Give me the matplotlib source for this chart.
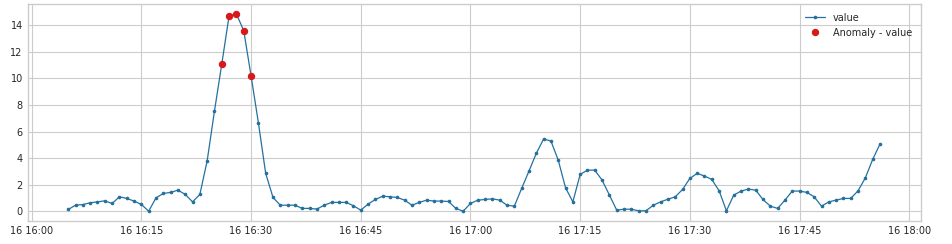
import numpy as np
import pandas as pd
import matplotlib
matplotlib.use("Agg")
import matplotlib.pyplot as plt
import matplotlib.dates as mdates

# one reading per minute, 16:05 .. 17:56
start = "2021-01-16 16:05"
values = [
    0.15, 0.47, 0.52, 0.65, 0.72, 0.80, 0.60, 1.10, 0.98, 0.78,
    0.53, 0.02, 1.02, 1.35, 1.43, 1.60, 1.28, 0.72, 1.28, 3.81,
    7.55, 11.08, 14.70, 14.82, 13.57, 10.18, 6.67, 2.86, 1.05, 0.47,
    0.47, 0.47, 0.23, 0.23, 0.18, 0.47, 0.68, 0.68, 0.68, 0.43,
    0.10, 0.55, 0.90, 1.15, 1.10, 1.05, 0.85, 0.47, 0.68, 0.85,
    0.78, 0.78, 0.75, 0.23, 0.02, 0.60, 0.85, 0.90, 0.95, 0.85,
    0.47, 0.40, 1.73, 3.03, 4.36, 5.44, 5.29, 3.86, 1.78, 0.72,
    2.78, 3.10, 3.10, 2.35, 1.23, 0.10, 0.17, 0.17, 0.05, 0.05,
    0.47, 0.72, 0.92, 1.10, 1.65, 2.48, 2.86, 2.66, 2.40, 1.55,
    0.05, 1.23, 1.53, 1.68, 1.60, 0.90, 0.40, 0.23, 0.85, 1.53,
    1.53, 1.43, 1.10, 0.40, 0.72, 0.85, 0.98, 0.98, 1.55, 2.53,
    3.91, 5.06,
]
anomaly_times = ["2021-01-16 16:26", "2021-01-16 16:27", "2021-01-16 16:28",
                 "2021-01-16 16:29", "2021-01-16 16:30"]

times = pd.date_range(start, periods=len(values), freq="1min")
s = pd.Series(values, index=times)
anom = s.loc[pd.to_datetime(anomaly_times)]

plt.style.use("seaborn-v0_8-whitegrid")
plt.rcParams["font.family"] = ["DejaVu Sans"]
fig = plt.figure(figsize=(9.53, 2.44), dpi=100)
ax = fig.add_axes([0.029, 0.094, 0.937, 0.889])

ax.plot(s.index, s.values, color="#24719f", lw=0.9, marker="o", ms=1.6,
        label="value")
ax.plot(anom.index, anom.values, ls="none", marker="o", ms=4.3,
        color="#d9181c", label="Anomaly - value")

ax.xaxis.set_major_locator(mdates.MinuteLocator(byminute=[0, 15, 30, 45]))
ax.xaxis.set_major_formatter(mdates.DateFormatter("%d %H:%M"))
ax.tick_params(labelsize=7)
ax.legend(loc="upper right", fontsize=7)

fig.savefig("out.png", dpi=100)
